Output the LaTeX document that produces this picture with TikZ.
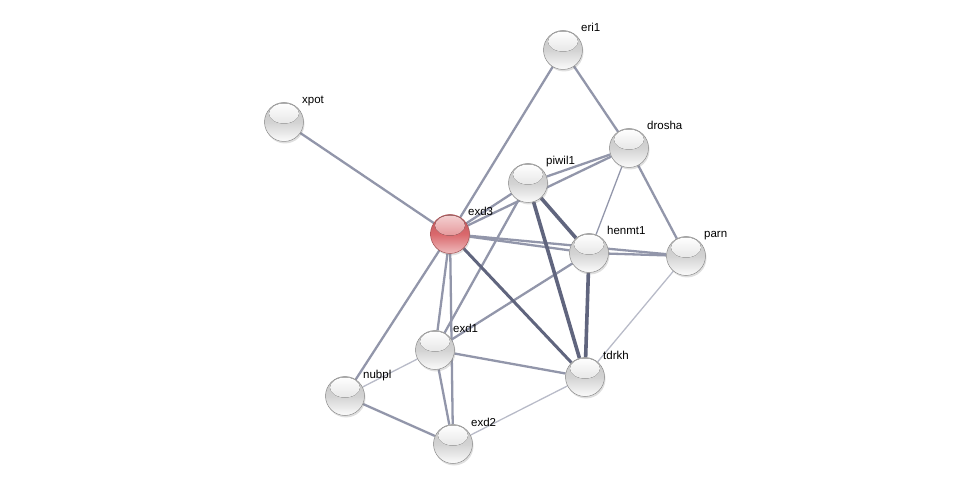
\documentclass[tikz,border=0pt]{standalone}
\usepackage{fontspec}
\setmainfont{Liberation Sans}
\usepackage{tikz}
\usetikzlibrary{backgrounds, shadows}
\definecolor{enlaceMed}{RGB}{146,150,170}
\definecolor{enlaceFuerte}{RGB}{96,101,126}
\definecolor{enlaceDebil}{RGB}{184,187,200}
\definecolor{bordeBola}{RGB}{140,140,140}
\definecolor{rojoBola}{RGB}{218,104,108}

\begin{document}
\begin{tikzpicture}[
  x=1pt, y=-1pt,
  prot/.style={circle, minimum size=39pt, inner sep=0pt, draw=bordeBola, line width=0.5pt,
               top color=gray!45, bottom color=gray!3, middle color=gray!35,
               drop shadow={shadow xshift=1pt, shadow yshift=-2pt, opacity=0.25},
               path picture={\fill[top color=white, bottom color=gray!35]
                 ([yshift=-11pt]path picture bounding box.north) ellipse (15pt and 10pt);}},
  query/.style={prot, draw=rojoBola!75!black, top color=rojoBola!85!black,
               bottom color=rojoBola!45, middle color=rojoBola,
               path picture={\fill[top color=white!70!rojoBola, bottom color=rojoBola]
                 ([yshift=-11pt]path picture bounding box.north) ellipse (15pt and 10pt);}},
  lbl/.style={anchor=base west, inner sep=0pt, font=\fontsize{11.5}{13}\selectfont},
  med/.style={line width=2.3pt, color=enlaceMed},
  fuerte/.style={line width=3.6pt, color=enlaceFuerte},
  debil/.style={line width=1.3pt, color=enlaceDebil}
]
  \useasboundingbox (0,0) rectangle (975,489);

  % proteinas
  \node[prot] (eri1) at (563,50) {};
  \node[prot] (xpot) at (284,122) {};
  \node[prot] (drosha) at (629,148) {};
  \node[prot] (piwil1) at (528,183) {};
  \node[query] (exd3) at (450,234) {};
  \node[prot] (henmt1) at (589,253) {};
  \node[prot] (parn) at (686,256) {};
  \node[prot] (exd1) at (435,350) {};
  \node[prot] (tdrkh) at (585,377) {};
  \node[prot] (nubpl) at (345,396) {};
  \node[prot] (exd2) at (453,444) {};

  % etiquetas
  \foreach \p in {eri1, xpot, drosha, piwil1, exd3, henmt1, parn, exd1, tdrkh, nubpl, exd2}
    \node[lbl] at ([shift={(18,-18)}]\p.center) {\p};

  % enlaces
  \begin{scope}[on background layer]
    \draw[med] (xpot) -- (exd3);
    \draw[med] (eri1) -- (exd3);
    \draw[med] (eri1) -- (drosha);
    \draw[med] (drosha) -- (piwil1);
    \draw[med] (exd3) -- (drosha);
    \draw[med] (exd3) -- (piwil1);
    \draw[med] (drosha) -- (parn);
    \draw[debil, color=enlaceMed] (drosha) -- (henmt1);
    \draw[med] (piwil1) -- (exd1);
    \draw[med] (exd3) -- (nubpl);
    \draw[med] (exd3) -- (exd1);
    \draw[med] (exd3) -- (exd2);
    \draw[med] (exd3) -- (henmt1);
    \draw[med] (exd3) -- (parn);
    \draw[med] (henmt1) -- (parn);
    \draw[med] (henmt1) -- (exd1);
    \draw[med] (exd1) -- (tdrkh);
    \draw[med] (exd1) -- (exd2);
    \draw[med] (nubpl) -- (exd2);
    \draw[debil] (exd1) -- (nubpl);
    \draw[debil] (parn) -- (tdrkh);
    \draw[debil] (exd2) -- (tdrkh);
    \draw[fuerte] (piwil1) -- (tdrkh);
    \draw[fuerte] (piwil1) -- (henmt1);
    \draw[fuerte] (henmt1) -- (tdrkh);
    \draw[fuerte, line width=3pt] (exd3) -- (tdrkh);
  \end{scope}
\end{tikzpicture}
\end{document}
